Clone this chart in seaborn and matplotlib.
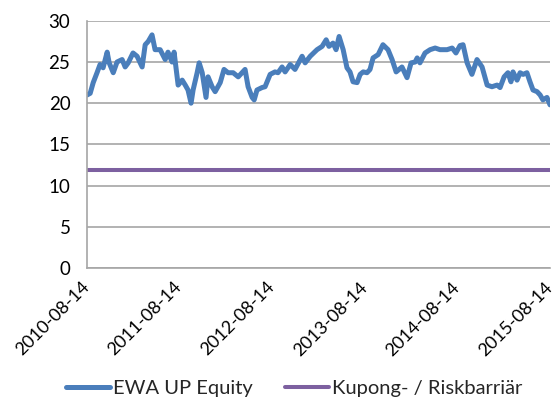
import pandas as pd
import numpy as np
import matplotlib
matplotlib.use("Agg")
import matplotlib.pyplot as plt
import matplotlib.dates as mdates
import matplotlib.transforms as mtransforms
import seaborn as sns

# EWA UP Equity (days after 2010-08-14, price)
start_date = "2010-08-14"
end_date = "2015-08-14"
day_offset = [0, 12, 24, 39, 51, 63, 79, 87, 103, 118, 138, 150, 162, 181, 197, 217,
              229, 241, 256, 268, 288, 308, 319, 335, 343, 359, 375, 387, 398, 410,
              418, 434, 442, 454, 469, 477, 493, 505, 525, 540, 556, 576, 596, 623,
              635, 651, 659, 670, 690, 702, 722, 741, 753, 769, 781, 801, 820, 848,
              860, 880, 907, 927, 943, 954, 970, 982, 994, 1010, 1025, 1037, 1049,
              1065, 1077, 1089, 1104, 1116, 1128, 1148, 1167, 1187, 1203, 1219, 1242,
              1262, 1278, 1294, 1302, 1313, 1333, 1353, 1373, 1392, 1420, 1440, 1455,
              1471, 1483, 1499, 1518, 1538, 1558, 1578, 1597, 1617, 1629, 1645, 1660,
              1672, 1680, 1696, 1708, 1720, 1735, 1747, 1759, 1775, 1787, 1798, 1814, 1826]
ewa_price = [21.0, 21.2, 22.5, 23.7, 24.7, 24.3, 26.2, 24.9, 23.7, 25.0, 25.3, 24.4, 24.9, 26.1, 25.7, 24.4,
             27.1, 27.5, 28.3, 26.5, 26.5, 25.3, 26.2, 25.0, 26.2, 22.2, 22.8, 22.2, 21.6, 20.0,
             21.6, 23.7, 24.9, 23.7, 20.7, 23.2, 22.0, 21.4, 22.5, 24.1, 23.7, 23.7, 23.2, 24.1,
             22.0, 20.7, 20.4, 21.6, 21.9, 22.0, 23.5, 23.8, 23.7, 24.4, 23.8, 24.7, 24.1, 25.7,
             24.9, 25.7, 26.5, 26.9, 27.7, 26.9, 27.3, 26.5, 28.1, 26.5, 24.3, 23.8, 22.6,
             22.5, 23.5, 23.8, 23.7, 24.1, 25.5, 25.9, 27.1, 26.5, 25.3, 23.8, 24.4,
             23.1, 24.9, 25.0, 25.5, 24.9, 26.1, 26.5, 26.7, 26.5, 26.5, 26.7, 26.1,
             27.0, 27.1, 24.9, 23.5, 25.3, 24.4, 22.2, 22.0, 22.2, 21.9, 23.2, 23.7,
             22.6, 23.8, 22.8, 23.7, 23.5, 23.7, 22.6, 21.6, 21.4, 21.0, 20.4, 20.7, 19.8]
barrier_level = 11.9
tick_dates = ["2010-08-14", "2011-08-14", "2012-08-14", "2013-08-14", "2014-08-14", "2015-08-14"]
y_ticks = [0, 5, 10, 15, 20, 25, 30]

sns.set_style("white")
plt.rcParams["font.family"] = ["Lato", "DejaVu Sans"]

dates = pd.Timestamp(start_date) + pd.to_timedelta(day_offset, unit="D")
df = pd.DataFrame({"date": dates, "value": ewa_price})
barrier = pd.DataFrame({"date": pd.to_datetime([start_date, end_date]),
                        "value": [barrier_level, barrier_level]})

fig = plt.figure(figsize=(5.55, 4.01), dpi=100)
ax = fig.add_axes([0.157, 0.332, 0.834, 0.616])

sns.lineplot(data=df, x="date", y="value", ax=ax, color="#4A7EBB", linewidth=3.6,
             label="EWA UP Equity")
sns.lineplot(data=barrier, x="date", y="value", ax=ax, color="#7D60A0", linewidth=2.9,
             label="Kupong- / Riskbarriär")

ax.set_xlim(pd.Timestamp(start_date), pd.Timestamp(end_date))
ax.set_ylim(0, 30)
ax.set_yticks(y_ticks)
ax.set_xticks(pd.to_datetime(tick_dates))
ax.xaxis.set_major_formatter(mdates.DateFormatter("%Y-%m-%d"))
ax.set_xlabel("")
ax.set_ylabel("")

ax.yaxis.grid(True, color="#A6A6A6", linewidth=1.2)
ax.xaxis.grid(False)
ax.set_axisbelow(True)
for side in ["top", "right"]:
    ax.spines[side].set_visible(False)
for side in ["left", "bottom"]:
    ax.spines[side].set_color("#A6A6A6")
    ax.spines[side].set_linewidth(1.2)

ax.tick_params(axis="both", which="both", direction="out", length=5, width=1.2,
               color="#A6A6A6", labelsize=13.5, labelcolor="#000000", pad=3)
ax.tick_params(axis="x", labelsize=13)
ax.tick_params(axis="y", pad=7)
# nudge rotated date labels left a bit so the last one stays inside the figure
shift = mtransforms.ScaledTranslation(-6 / 100, 0, fig.dpi_scale_trans)
for lbl in ax.get_xticklabels():
    lbl.set_rotation(45)
    lbl.set_ha("right")
    lbl.set_rotation_mode("anchor")
    lbl.set_transform(lbl.get_transform() + shift)

ax.get_legend().remove()
handles, labels = ax.get_legend_handles_labels()
fig.legend(handles, labels, loc="center", bbox_to_anchor=(0.53, 0.032), ncol=2,
           frameon=False, fontsize=14.5, handlelength=2.2, columnspacing=1.6,
           handletextpad=0.15, borderaxespad=0)

fig.savefig("out.png", dpi=100)
